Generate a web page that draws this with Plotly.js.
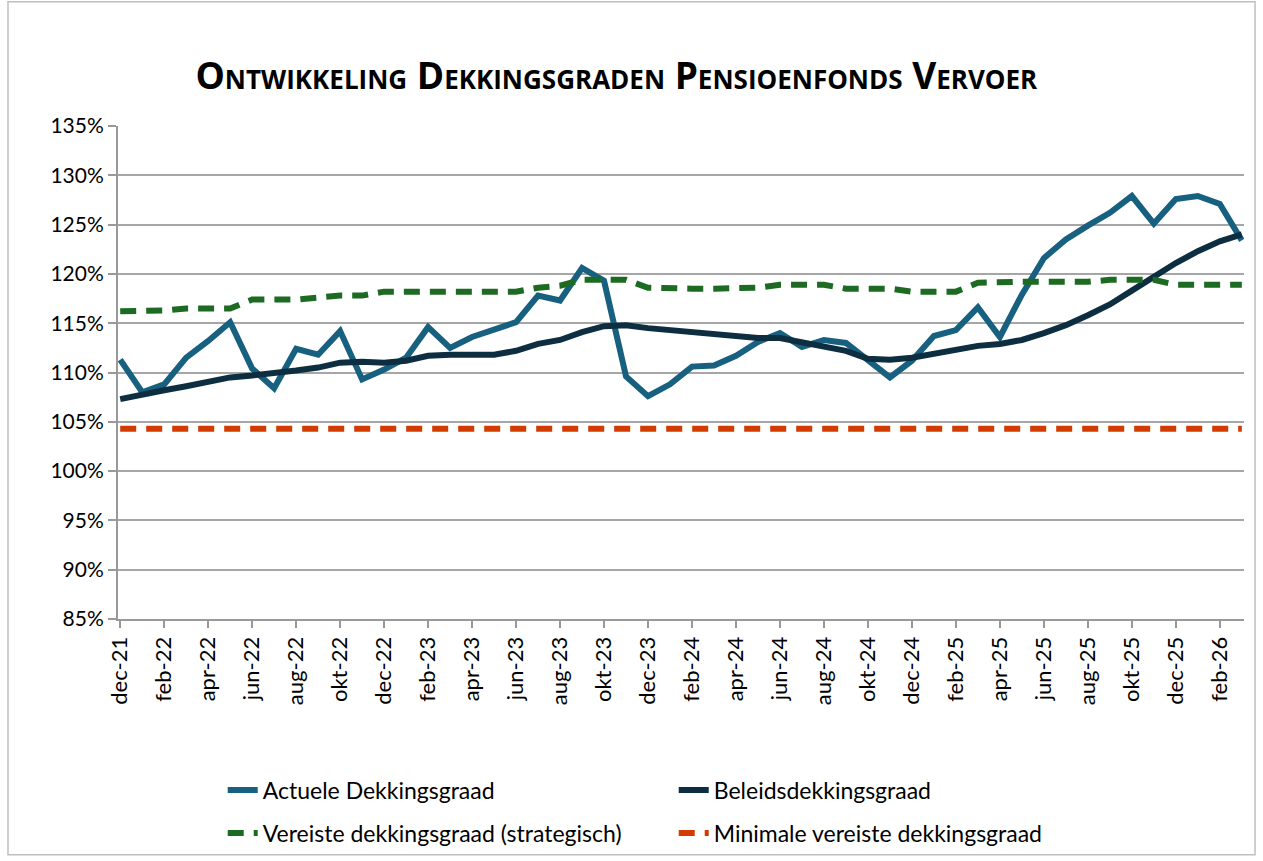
<!DOCTYPE html>
<html>
<head>
<meta charset="utf-8">
<script src="https://cdn.plot.ly/plotly-3.0.1.min.js"></script>
<style>html,body{margin:0;padding:0;background:#fff;}#chart{width:1263px;height:861px;}</style>
</head>
<body>
<div id="chart"></div>
<script>
const months = ["dec-21","jan-22","feb-22","mrt-22","apr-22","mei-22","jun-22","jul-22","aug-22","sep-22","okt-22","nov-22",
"dec-22","jan-23","feb-23","mrt-23","apr-23","mei-23","jun-23","jul-23","aug-23","sep-23","okt-23","nov-23",
"dec-23","jan-24","feb-24","mrt-24","apr-24","mei-24","jun-24","jul-24","aug-24","sep-24","okt-24","nov-24",
"dec-24","jan-25","feb-25","mrt-25","apr-25","mei-25","jun-25","jul-25","aug-25","sep-25","okt-25","nov-25",
"dec-25","jan-26","feb-26","mrt-26"];

const tickLabels = ["dec-21","feb-22","apr-22","jun-22","aug-22","okt-22","dec-22","feb-23","apr-23","jun-23","aug-23","okt-23",
"dec-23","feb-24","apr-24","jun-24","aug-24","okt-24","dec-24","feb-25","apr-25","jun-25","aug-25","okt-25","dec-25","feb-26"];

const actuele = [111.3,108.0,108.8,111.5,113.2,115.1,110.4,108.4,112.4,111.8,114.2,109.3,
110.3,111.5,114.6,112.5,113.6,114.4,115.1,117.8,117.3,120.6,119.3,109.6,
107.6,108.8,110.6,110.7,111.7,113.1,114.0,112.6,113.3,113.0,111.2,109.5,
111.2,113.7,114.3,116.6,113.6,117.9,121.6,123.5,124.9,126.2,127.9,125.1,
127.6,127.9,127.1,123.4];

const beleids = [107.3,107.8,108.2,108.6,109.0,109.5,109.7,109.9,110.2,110.5,111.0,111.1,
111.0,111.2,111.7,111.8,111.8,111.8,112.2,112.9,113.3,114.1,114.7,114.8,
114.5,114.3,114.0,113.8,113.6,113.5,113.5,113.1,112.7,112.2,111.4,111.3,
111.5,111.9,112.2,112.7,112.9,113.3,114.0,114.8,115.8,116.9,118.3,119.7,
121.1,122.3,123.3,124.0];

const vereiste = [116.2,116.2,116.3,116.5,116.5,116.5,117.4,117.4,117.4,117.6,117.8,117.8,
118.2,118.2,118.2,118.2,118.2,118.2,118.2,118.6,118.8,119.4,119.4,119.4,
118.6,118.5,118.5,118.5,118.5,118.6,118.9,118.9,118.9,118.5,118.5,118.5,
118.2,118.2,118.2,119.1,119.2,119.2,119.2,119.2,119.2,119.4,119.4,119.4,
118.9,118.9,118.9,118.9];

const minimale = [104.3,104.3,104.3,104.3,104.3,104.3,104.3,104.3,104.3,104.3,104.3,104.3,
104.4,104.4,104.4,104.4,104.4,104.4,104.4,104.4,104.4,104.4,104.4,104.3,
104.3,104.3,104.3,104.3,104.3,104.3,104.3,104.3,104.3,104.3,104.3,104.3,
104.3,104.3,104.3,104.3,104.3,104.3,104.3,104.3,104.3,104.3,104.3,104.3,
104.3,104.3,104.3,104.3];

const seriesNames = ["Actuele Dekkingsgraad","Beleidsdekkingsgraad","Vereiste dekkingsgraad (strategisch)","Minimale vereiste dekkingsgraad"];

const FONT = "Lato, 'Noto Sans', sans-serif";

const traces = [
  {x: months, y: actuele, name: seriesNames[0], type: "scatter", mode: "lines",
   line: {color: "#17607f", width: 6}, legend: "legend"},
  {x: months, y: beleids, name: seriesNames[1], type: "scatter", mode: "lines",
   line: {color: "#0c2e40", width: 6}, legend: "legend"},
  {x: months, y: vereiste, name: seriesNames[2], type: "scatter", mode: "lines",
   line: {color: "#1d6b22", width: 6, dash: "16px,10px"}, legend: "legend2"},
  {x: months, y: minimale, name: seriesNames[3], type: "scatter", mode: "lines",
   line: {color: "#d23c00", width: 6, dash: "16px,10px"}, legend: "legend2"}
];

const legendCommon = {
  orientation: "h", xanchor: "left", yanchor: "middle",
  entrywidth: 406, entrywidthmode: "pixels",
  font: {family: FONT, size: 23, color: "#000"},
  bgcolor: "rgba(0,0,0,0)", itemwidth: 30, traceorder: "normal"
};

const layout = {
  width: 1263, height: 861,
  paper_bgcolor: "#fff", plot_bgcolor: "#fff",
  margin: {l: 118, r: 19, t: 126, b: 242, autoexpand: false},
  title: {
    text: "<b>Ontwikkeling Dekkingsgraden Pensioenfonds Vervoer</b>",
    font: {family: "'Open Sans', Lato, sans-serif", size: 37, color: "#000", variant: "small-caps"},
    x: 0.488, xanchor: "center", y: 0.912, yanchor: "middle"
  },
  xaxis: {
    type: "category",
    range: [-0.1, 51.1],
    tickmode: "array", tickvals: tickLabels, ticktext: tickLabels,
    tickangle: -90,
    ticks: "outside", ticklen: 7, tickwidth: 2, tickcolor: "#999",
    showline: true, linecolor: "#999", linewidth: 2,
    showgrid: false, zeroline: false, automargin: false,
    tickfont: {family: FONT, size: 22, color: "#000"}
  },
  yaxis: {
    range: [85, 135], dtick: 5, tick0: 85,
    ticksuffix: "%",
    ticks: "outside", ticklen: 8, tickwidth: 2, tickcolor: "#999",
    showline: true, linecolor: "#999", linewidth: 2,
    showgrid: true, gridcolor: "#a6a6a6", gridwidth: 2,
    zeroline: false, automargin: false,
    tickfont: {family: FONT, size: 21, color: "#000"}
  },
  legend: Object.assign({}, legendCommon, {x: 0.093, y: -0.347}),
  legend2: Object.assign({}, legendCommon, {x: 0.093, y: -0.434}),
  shapes: [
    {type: "rect", xref: "paper", yref: "paper",
     x0: -0.0977, x1: 1.0098, y0: -0.478, y1: 1.252,
     line: {color: "#bfbfbf", width: 1.5}, fillcolor: "rgba(0,0,0,0)"}
  ]
};

Plotly.newPlot("chart", traces, layout, {displayModeBar: false, responsive: false});
</script>
</body>
</html>
